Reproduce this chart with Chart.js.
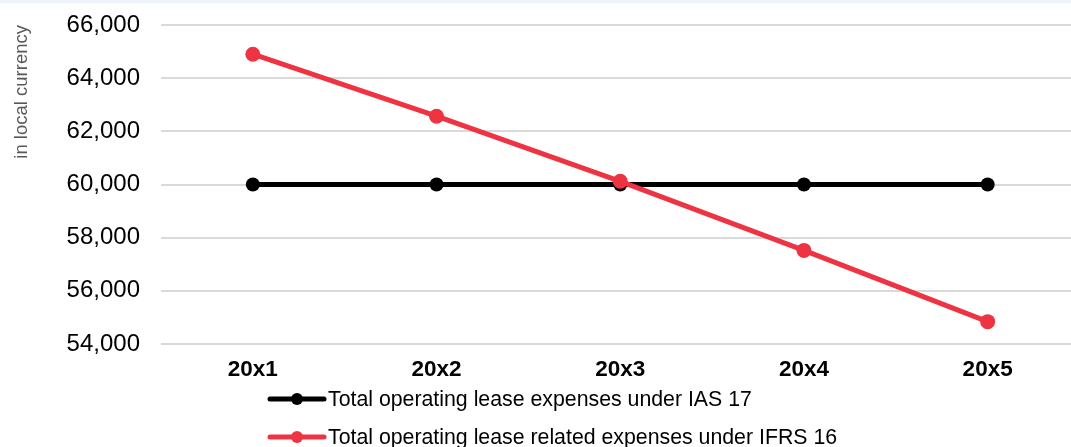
<!DOCTYPE html>
<html>
<head>
<meta charset="utf-8">
<script src="https://cdn.jsdelivr.net/npm/chart.js@4"></script>
<style>
  html, body { margin: 0; padding: 0; background: #fff; overflow: hidden; }
  #topband { position: absolute; left: 0; top: 0; width: 1071px; height: 3px; background: #eef2fa; z-index: 2; }
  #c { position: absolute; left: 0; top: 0; }
</style>
</head>
<body>
<div id="topband"></div>
<canvas id="c" width="1087" height="447"></canvas>
<script>
const categories = ['20x1', '20x2', '20x3', '20x4', '20x5'];
const ias17Values = [60000, 60000, 60000, 60000, 60000];
const ifrs16Values = [64900, 62570, 60120, 57520, 54840];
const seriesNames = ['Total operating lease expenses under IAS 17', 'Total operating lease related expenses under IFRS 16'];
const yAxisTitle = 'in local currency';
const yMin = 54000, yMax = 66000, yStep = 2000;

const RED = '#ee3442';
const BLACK = '#000000';

const legendPlugin = {
  id: 'customLegend',
  afterDraw(chart) {
    const ctx = chart.ctx;
    const rows = [399, 437];
    chart.data.datasets.forEach((ds, i) => {
      const y = rows[i];
      ctx.save();
      ctx.strokeStyle = ds.borderColor;
      ctx.lineWidth = 5;
      ctx.lineCap = 'round';
      ctx.beginPath();
      ctx.moveTo(270, y);
      ctx.lineTo(324, y);
      ctx.stroke();
      ctx.fillStyle = ds.borderColor;
      ctx.beginPath();
      ctx.arc(297, y, 6, 0, Math.PI * 2);
      ctx.fill();
      ctx.fillStyle = '#000';
      ctx.font = '21.3px "Liberation Sans", Arial, sans-serif';
      ctx.textBaseline = 'middle';
      ctx.textAlign = 'left';
      ctx.fillText(ds.label, 328, y + 1);
      ctx.restore();
    });
  }
};

new Chart(document.getElementById('c'), {
  type: 'line',
  data: {
    labels: categories,
    datasets: [
      {
        label: seriesNames[0],
        data: ias17Values,
        borderColor: BLACK,
        backgroundColor: BLACK,
        borderWidth: 5,
        pointRadius: 7,
        pointHoverRadius: 7,
        pointBorderWidth: 0,
        tension: 0,
        order: 2
      },
      {
        label: seriesNames[1],
        data: ifrs16Values,
        borderColor: RED,
        backgroundColor: RED,
        borderWidth: 5,
        pointRadius: 7.5,
        pointHoverRadius: 7.5,
        pointBorderWidth: 0,
        tension: 0,
        order: 1
      }
    ]
  },
  options: {
    responsive: false,
    maintainAspectRatio: false,
    devicePixelRatio: 1,
    animation: false,
    layout: { padding: { top: 25, right: 0, bottom: 52, left: 0 } },
    plugins: {
      legend: { display: false },
      tooltip: { enabled: false }
    },
    scales: {
      x: {
        offset: true,
        afterFit(scale) { scale.paddingLeft = 0; scale.paddingRight = 0; },
        grid: { display: false, drawTicks: false },
        border: { display: false },
        ticks: {
          color: '#000',
          padding: 12,
          font: { family: '"Liberation Sans", Arial, sans-serif', size: 22.5, weight: 'bold' }
        }
      },
      y: {
        min: yMin,
        max: yMax,
        afterFit(scale) { scale.width = 161; scale.paddingTop = 0; scale.paddingBottom = 0; },
        grid: { color: '#d9d9d9', lineWidth: 2, drawTicks: false },
        border: { display: false },
        ticks: {
          stepSize: yStep,
          color: '#000',
          padding: 21,
          font: { family: '"Liberation Sans", Arial, sans-serif', size: 24 },
          callback: v => v.toLocaleString('en-US')
        },
        title: {
          display: true,
          text: yAxisTitle,
          align: 'end',
          color: '#595959',
          padding: { top: 11, bottom: 0 },
          font: { family: '"Liberation Sans", Arial, sans-serif', size: 18.5 }
        }
      }
    }
  },
  plugins: [legendPlugin]
});
</script>
</body>
</html>
